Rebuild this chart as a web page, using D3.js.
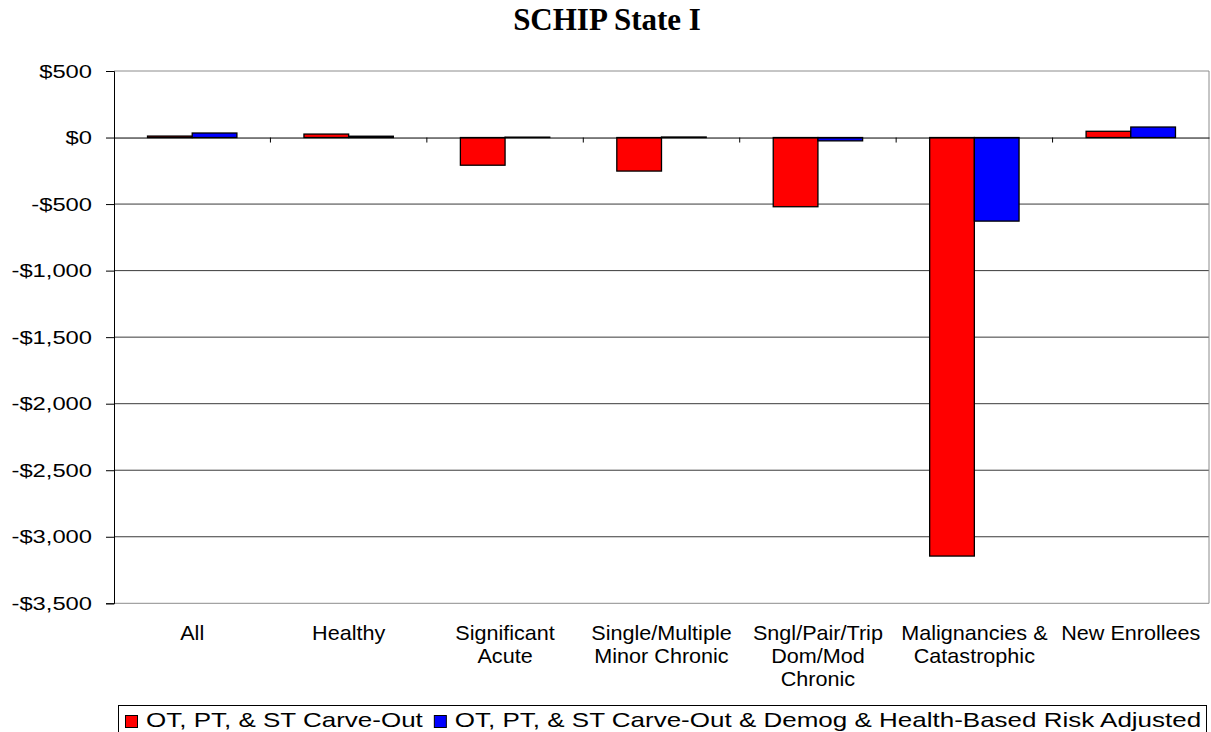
<!DOCTYPE html>
<html>
<head>
<meta charset="utf-8">
<script src="https://cdn.jsdelivr.net/npm/d3@7"></script>
<style>
  body { margin: 0; background: #fff; }
  svg { display: block; }
</style>
</head>
<body>
<svg class="barchart" width="1211" height="732"></svg>
<script>
// data
let categories = [
  ["All"],
  ["Healthy"],
  ["Significant", "Acute"],
  ["Single/Multiple", "Minor Chronic"],
  ["Sngl/Pair/Trip", "Dom/Mod", "Chronic"],
  ["Malignancies &", "Catastrophic"],
  ["New Enrollees"]
];
let seriesNames = [
  "OT, PT, & ST Carve-Out",
  "OT, PT, & ST Carve-Out & Demog & Health-Based Risk Adjusted"
];
let carveOut = [11, 26, -208, -252, -520, -3145, 47];
let riskAdjusted = [34, 10, 3, 4, -25, -628, 79];
let yTicks = [500, 0, -500, -1000, -1500, -2000, -2500, -3000, -3500];
let colors = ["#ff0000", "#0000ff"];

let drawBarChart = function(){
  let svg = d3.select("body").select(".barchart");
  let plot = {left: 114, right: 1209, top: 71, bottom: 603.3};

  let catKeys = categories.map(c => c.join(" "));
  let values = [carveOut, riskAdjusted];

  //scales
  let x0 = d3.scaleBand()
          .domain(catKeys)
          .range([plot.left, plot.right])
          .padding(0);
  let gap = x0.bandwidth() * 0.75 / 3.5;   // excel gap width 150
  let x1 = d3.scaleBand()
          .domain(d3.range(seriesNames.length))
          .range([gap, x0.bandwidth() - gap])
          .padding(0);
  let y = d3.scaleLinear()
          .domain([d3.min(yTicks), d3.max(yTicks)])
          .range([plot.bottom, plot.top]);

  let money = v => (v < 0 ? "-$" : "$") + d3.format(",")(Math.abs(v));

  // title
  svg.append("text")
      .attr("x", 607)
      .attr("y", 30)
      .attr("text-anchor", "middle")
      .style("font-family", "'Liberation Serif', 'Times New Roman', serif")
      .style("font-weight", "bold")
      .style("font-size", "31px")
      .text("SCHIP State I");

  // gridlines
  svg.append("g").selectAll("line")
      .data(yTicks.filter(t => t !== 0))
      .join("line")
      .attr("x1", plot.left).attr("x2", plot.right)
      .attr("y1", d => y(d)).attr("y2", d => y(d))
      .attr("stroke", d => (d === d3.max(yTicks) || d === d3.min(yTicks)) ? "#8c8c8c" : "#3a3a3a")
      .attr("stroke-width", 1);
  // right border of plot area
  svg.append("line")
      .attr("x1", plot.right).attr("x2", plot.right)
      .attr("y1", plot.top).attr("y2", plot.bottom)
      .attr("stroke", "#8c8c8c");

  // bars
  let groups = svg.append("g").selectAll("g")
      .data(catKeys)
      .join("g")
      .attr("transform", d => translate(x0(d), 0));
  groups.selectAll("rect")
      .data((d, i) => values.map((s, k) => ({k: k, v: s[i]})))
      .join("rect")
      .attr("x", d => x1(d.k))
      .attr("width", x1.bandwidth())
      .attr("y", d => y(Math.max(0, d.v)))
      .attr("height", d => Math.abs(y(d.v) - y(0)))
      .attr("fill", d => colors[d.k])
      .attr("stroke", "#000")
      .attr("stroke-width", 1.3);

  // zero line with category ticks
  let xAxis = d3.axisBottom(x0).tickSize(0).tickFormat("");
  let xGroup = svg.append("g").attr("id", "x-axis")
      .attr("transform", translate(0, y(0)))
      .call(xAxis);
  xGroup.select(".domain").attr("stroke", "#000");
  xGroup.selectAll(".cat-tick")
      .data(catKeys.slice(1))
      .join("line")
      .attr("class", "cat-tick")
      .attr("x1", d => x0(d)).attr("x2", d => x0(d))
      .attr("y1", 0).attr("y2", 5)
      .attr("stroke", "#000");

  // y axis
  let sx = 1.25;
  let yAxis = d3.axisLeft(y).tickValues(yTicks).tickSize(8).tickPadding(9.6).tickFormat(money);
  let yGroup = svg.append("g").attr("id", "y-axis")
      .attr("transform", translate(plot.left, 0))
      .call(yAxis);
  yGroup.select(".domain").attr("stroke", "#000");
  yGroup.selectAll(".tick line").attr("stroke", "#000");
  yGroup.selectAll(".tick text")
      .style("font-family", "'Liberation Sans', Arial, sans-serif")
      .style("font-size", "19px")
      .attr("fill", "#000")
      .attr("transform", "scale(" + sx + ",1)");

  // category labels
  let labels = svg.append("g").selectAll("text")
      .data(categories)
      .join("text")
      .attr("transform", (d, i) => translate(x0(catKeys[i]) + x0.bandwidth() / 2, 640) + " scale(1.08,1)")
      .attr("text-anchor", "middle")
      .style("font-family", "'Liberation Sans', Arial, sans-serif")
      .style("font-size", "20px");
  labels.selectAll("tspan")
      .data(d => d)
      .join("tspan")
      .attr("x", 0)
      .attr("y", (d, i) => i * 23)
      .text(d => d);

  // legend (kept a few px higher so descenders stay inside the page)
  let legendSx = 1.30;
  let legend = svg.append("g");
  legend.append("rect")
      .attr("x", 118.5).attr("y", 705.5)
      .attr("width", 1206 - 118).attr("height", 40)
      .attr("fill", "#fff").attr("stroke", "#000");
  let lx = 125;
  seriesNames.forEach((name, k) => {
    legend.append("rect")
        .attr("x", lx + 0.5).attr("y", 715.5)
        .attr("width", 12).attr("height", 12)
        .attr("fill", colors[k]).attr("stroke", "#000");
    let t = legend.append("text")
        .attr("transform", translate(lx + 21, 727) + " scale(" + legendSx + ",1)")
        .style("font-family", "'Liberation Sans', Arial, sans-serif")
        .style("font-size", "20px")
        .text(name);
    lx = lx + 21 + t.node().getComputedTextLength() * legendSx + 11;
  });
};

function translate(x, y) {
  return 'translate(' + x + ',' + y + ')';
}

drawBarChart();
</script>
</body>
</html>
